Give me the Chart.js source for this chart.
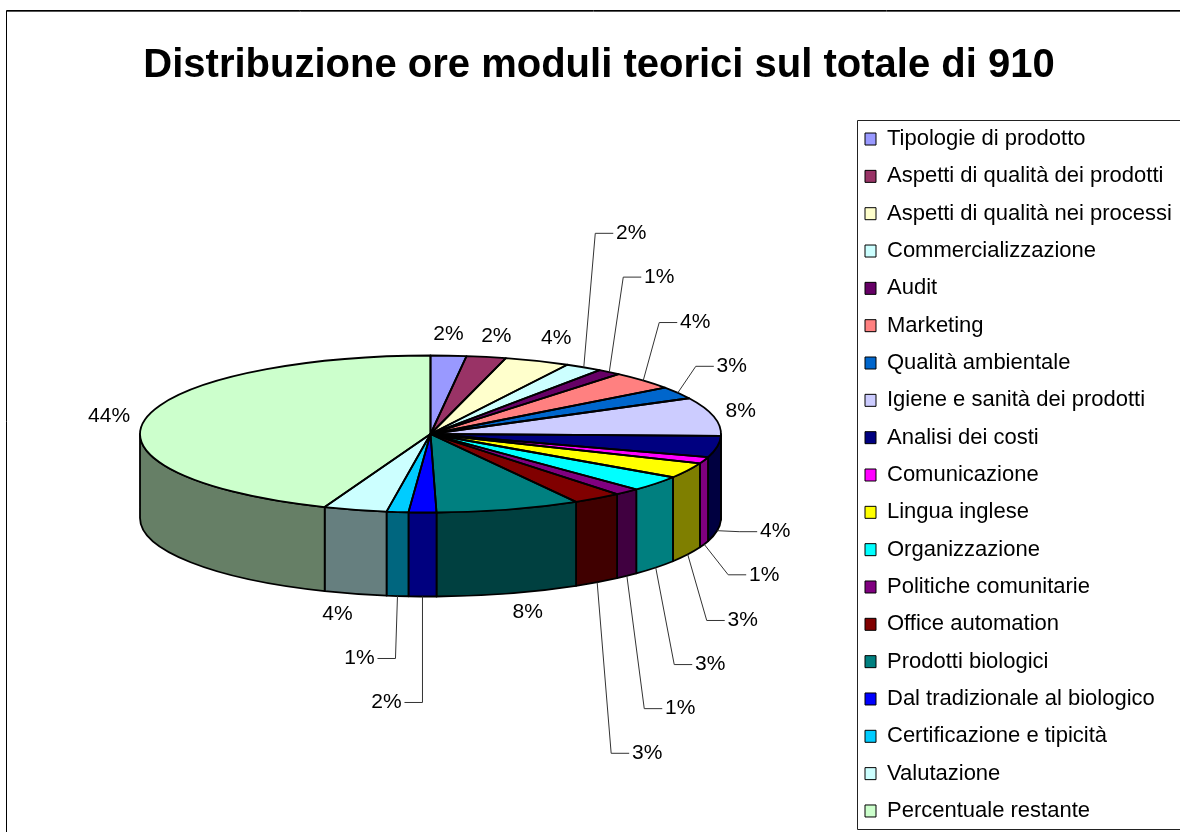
<!DOCTYPE html>
<html>
<head>
<meta charset="utf-8">
<style>html,body{margin:0;padding:0;background:#fff;overflow:hidden}canvas{display:block}</style>
<script src="https://cdn.jsdelivr.net/npm/chart.js@4"></script>
</head>
<body>
<canvas id="c" width="1180" height="832"></canvas>
<script>
const chartTitle = "Distribuzione ore moduli teorici sul totale di 910";
const moduleNames = ["Tipologie di prodotto","Aspetti di qualità dei prodotti","Aspetti di qualità nei processi","Commercializzazione","Audit","Marketing","Qualità ambientale","Igiene e sanità dei prodotti","Analisi dei costi","Comunicazione","Lingua inglese","Organizzazione","Politiche comunitarie","Office automation","Prodotti biologici","Dal tradizionale al biologico","Certificazione e tipicità","Valutazione","Percentuale restante"];
const moduleHours = [18,20,33,19,12,34,23,72,40,12,29,29,13,25,73,14,11,32,401];
const sliceColors = ["#9999FF","#993366","#FFFFCC","#CCFFFF","#660066","#FF8080","#0066CC","#CCCCFF","#000080","#FF00FF","#FFFF00","#00FFFF","#800080","#800000","#008080","#0000FF","#00CCFF","#CCFFFF","#CCFFCC"];
// label text centre relative to the slice's rim point, and whether a leader line joins them
const labelOffsets = [[0,-21],[10,-20.5],[19,-22.5],[47.5,-134],[50,-95],[52,-58],[54,-26.5],[27,-5],[58,1],[60,30.5],[55,66],[54.5,97],[53.4,132.8],[50,171],[19,19],[-36,106],[-38,62.5],[-17.7,20.7],[-36,-3]];
const hasLeader = [0,0,0,1,1,1,1,0,1,1,1,1,1,1,0,1,1,0,0];

const FONT = '"Liberation Sans", Arial, sans-serif';
const view = {cx:430.5, cy:434, rx:290.5, ry:78.5, depth:84};
const legendBox = {left:857.5, top:120.5, bottom:829.5};
const TOTAL = moduleHours.reduce((a,b)=>a+b,0);
const OUTLINE = 1.8;

function halve(hex){
  const n = parseInt(hex.slice(1),16);
  return `rgb(${(n>>16&255)>>1},${(n>>8&255)>>1},${(n&255)>>1})`;
}

const pie3d = {
  id:'pie3d',
  beforeDraw(chart){
    const ctx = chart.ctx, lg = chart.legend;
    const h = lg.height;
    lg.left = 849.67; lg.right = lg.left + 340;
    lg.top = 112.7; lg.bottom = lg.top + h + 60;
    ctx.save();
    ctx.fillStyle = '#fff'; ctx.fillRect(0,0,chart.width,chart.height);
    ctx.strokeStyle = '#000'; ctx.lineWidth = 1;
    ctx.beginPath(); ctx.moveTo(6.5,chart.height); ctx.lineTo(6.5,10.5); ctx.lineTo(chart.width,10.5); ctx.stroke();
    ctx.strokeStyle = '#555';
    ctx.beginPath(); ctx.moveTo(7,11.5); ctx.lineTo(chart.width,11.5); ctx.stroke();
    ctx.strokeStyle = '#222';
    ctx.beginPath(); ctx.moveTo(chart.width,legendBox.top); ctx.lineTo(legendBox.left,legendBox.top);
    ctx.lineTo(legendBox.left,legendBox.bottom); ctx.lineTo(chart.width,legendBox.bottom); ctx.stroke();
    ctx.restore();
  },
  beforeDatasetsDraw(chart){
    const ctx = chart.ctx, arcs = chart.getDatasetMeta(0).data, v = view;
    ctx.save();
    ctx.lineWidth = OUTLINE; ctx.strokeStyle = '#000'; ctx.lineJoin = 'round';
    arcs.forEach((arc,i)=>{
      const lo = Math.max(arc.startAngle,0), hi = Math.min(arc.endAngle,Math.PI);
      if(hi <= lo) return;
      ctx.beginPath();
      ctx.ellipse(v.cx,v.cy,v.rx,v.ry,0,lo,hi);
      ctx.ellipse(v.cx,v.cy+v.depth,v.rx,v.ry,0,hi,lo,true);
      ctx.closePath();
      ctx.fillStyle = halve(sliceColors[i]);
      ctx.fill(); ctx.stroke();
    });
    ctx.restore();
    // squash the library's round pie into the tilted ellipse
    const a = arcs[0], k = v.ry/a.outerRadius;
    ctx.save();
    ctx.translate(v.cx,v.cy);
    ctx.scale(v.rx/a.outerRadius,k);
    ctx.translate(-a.x,-a.y);
  },
  afterDatasetsDraw(chart){
    const ctx = chart.ctx, arcs = chart.getDatasetMeta(0).data, v = view;
    ctx.restore();
    ctx.save();
    ctx.lineWidth = OUTLINE; ctx.strokeStyle = '#000'; ctx.lineJoin = 'round';
    arcs.forEach(arc=>{
      ctx.beginPath();
      ctx.moveTo(v.cx,v.cy);
      ctx.ellipse(v.cx,v.cy,v.rx,v.ry,0,arc.startAngle,arc.endAngle);
      ctx.closePath(); ctx.stroke();
    });
    ctx.font = '21px '+FONT;
    ctx.textAlign = 'center'; ctx.textBaseline = 'middle'; ctx.fillStyle = '#000';
    arcs.forEach((arc,i)=>{
      const m = (arc.startAngle+arc.endAngle)/2;
      let ax = v.cx+v.rx*Math.cos(m), ay = v.cy+v.ry*Math.sin(m);
      if(Math.sin(m) > 0.05) ay += v.depth;
      const tx = ax+labelOffsets[i][0], ty = ay+labelOffsets[i][1];
      if(hasLeader[i]){
        const s = labelOffsets[i][0] > 0 ? -1 : 1;
        ctx.strokeStyle = '#333'; ctx.lineWidth = 1;
        ctx.beginPath(); ctx.moveTo(ax,ay);
        ctx.lineTo(tx+s*36,ty); ctx.lineTo(tx+s*18,ty); ctx.stroke();
      }
      ctx.fillText(Math.round(moduleHours[i]/TOTAL*100)+'%',tx,ty);
    });
    ctx.restore();
  }
};

new Chart(document.getElementById('c'),{
  type:'pie',
  data:{labels:moduleNames,datasets:[{data:moduleHours,backgroundColor:sliceColors,borderWidth:0,clip:false}]},
  options:{
    responsive:false, animation:false, radius:291,
    layout:{padding:{left:18}},
    plugins:{
      tooltip:{enabled:false},
      title:{display:true,text:chartTitle,color:'#000',font:{family:FONT,size:40,weight:'bold'},padding:{top:42,bottom:7}},
      legend:{position:'right',align:'start',
        labels:{color:'#000',font:{family:FONT,size:22},boxWidth:11,boxHeight:12,padding:15.33,
          generateLabels(chart){
            return Chart.overrides.doughnut.plugins.legend.labels.generateLabels(chart)
              .map(it=>({...it,strokeStyle:'#000',lineWidth:1}));
          }}}
    }
  },
  plugins:[pie3d]
});
</script>
</body>
</html>
